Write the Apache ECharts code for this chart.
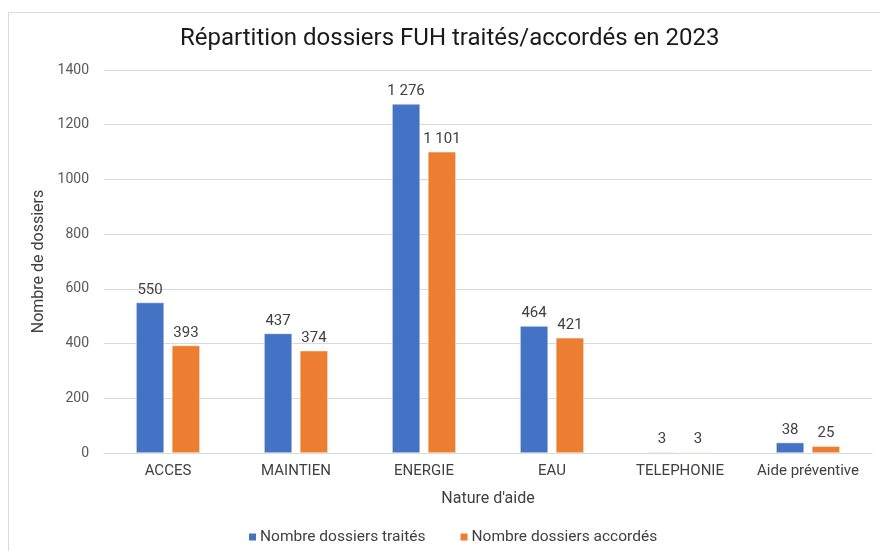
<!DOCTYPE html>
<html>
<head>
<meta charset="utf-8">
<script src="https://cdn.jsdelivr.net/npm/echarts@6/dist/echarts.min.js"></script>
<style>
  html, body { margin: 0; padding: 0; background: #fff; }
  #main { width: 880px; height: 551px; }
</style>
</head>
<body>
<div id="main"></div>
<script>
const categories = ['ACCES', 'MAINTIEN', 'ENERGIE', 'EAU', 'TELEPHONIE', 'Aide préventive'];
const traites = [550, 437, 1276, 464, 3, 38];
const accordes = [393, 374, 1101, 421, 3, 25];
const seriesNames = ['Nombre dossiers traités', 'Nombre dossiers accordés'];

// thousands separated by a space, as in the source
const fmt = v => String(v.value).replace(/\B(?=(\d{3})+(?!\d))/g, ' ');

const chart = echarts.init(document.getElementById('main'));
const labelStyle = { show: true, position: 'top', distance: 5, color: '#404040', fontSize: 15, fontFamily: 'Roboto', formatter: fmt };

chart.setOption({
  animation: false,
  textStyle: { fontFamily: 'Roboto' },
  graphic: [{
    type: 'polyline',
    shape: { points: [[8.5, 551], [8.5, 12.5], [880, 12.5]] },
    style: { stroke: '#d9d9d9', fill: null, lineWidth: 1 }
  }],
  title: {
    text: 'Répartition dossiers FUH traités/accordés en 2023',
    left: 175, top: 22,
    textStyle: { fontSize: 24, fontWeight: 'normal', color: '#1a1a1a', fontFamily: 'Roboto' }
  },
  legend: {
    bottom: 1, left: 242,
    itemWidth: 9, itemHeight: 9, itemGap: 33,
    icon: 'rect',
    textStyle: { fontSize: 15.5, color: '#404040', padding: [0, 0, 0, -2] },
    data: seriesNames
  },
  grid: { left: 104, right: 8, top: 70, bottom: 98 },
  xAxis: {
    type: 'category',
    data: categories,
    name: "Nature d'aide",
    nameLocation: 'middle', nameGap: 38,
    nameTextStyle: { fontSize: 16, color: '#404040' },
    axisLine: { lineStyle: { color: '#d9d9d9' } },
    axisTick: { show: false },
    axisLabel: { fontSize: 15, color: '#404040', margin: 11, interval: 0 }
  },
  yAxis: {
    type: 'value',
    min: 0, max: 1400, interval: 200,
    name: 'Nombre de dossiers',
    nameLocation: 'middle', nameGap: 50,
    nameTextStyle: { fontSize: 16, color: '#404040' },
    axisLabel: { fontSize: 14, color: '#595959', margin: 15, formatter: v => String(v) },
    splitLine: { lineStyle: { color: '#d9d9d9' } }
  },
  series: [
    {
      name: seriesNames[0], type: 'bar', data: traites,
      barWidth: 28, barGap: '28%',
      itemStyle: { color: '#4472C4', borderColor: '#fff', borderWidth: 0.5 },
      label: labelStyle
    },
    {
      name: seriesNames[1], type: 'bar', data: accordes,
      barWidth: 28,
      itemStyle: { color: '#ED7D31', borderColor: '#fff', borderWidth: 0.5 },
      label: labelStyle
    }
  ]
});
</script>
</body>
</html>
